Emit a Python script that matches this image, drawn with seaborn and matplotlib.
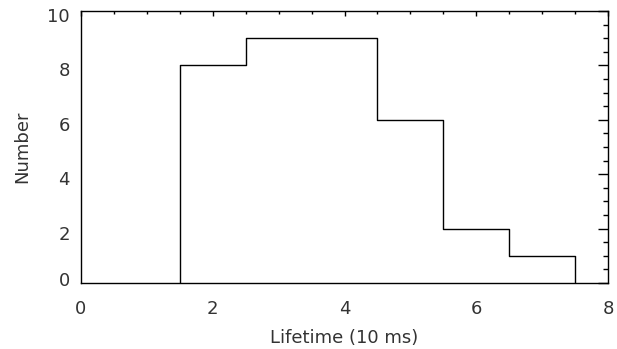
import numpy as np
import matplotlib
matplotlib.use("Agg")
import matplotlib.pyplot as plt
import matplotlib.transforms as mtransforms
from matplotlib.ticker import MultipleLocator, FixedLocator
import seaborn as sns

# Data
bin_edges = [1.5, 2.5, 3.5, 4.5, 5.5, 6.5, 7.5]
counts = [8, 9, 9, 6, 2, 1]
x_ticks = [0, 2, 4, 6, 8]
y_ticks = [0, 2, 4, 6, 8, 10]
x_label = "Lifetime (10 ms)"
y_label = "Number"

centers = [(a + b) / 2 for a, b in zip(bin_edges[:-1], bin_edges[1:])]

sns.set_theme(style="white")
plt.rcParams['font.family'] = ['DejaVu Sans']

fig = plt.figure(figsize=(6.17, 3.49), dpi=100)
ax = fig.add_axes([81 / 617, 1 - 283 / 349, 527 / 617, 272 / 349])

sns.histplot(x=centers, weights=counts, bins=bin_edges, element="step",
             fill=False, color="black", linewidth=1.0, ax=ax)
# outer edges of the step outline down to zero
ax.vlines([bin_edges[0], bin_edges[-1]], 0, [counts[0], counts[-1]],
          color="black", linewidth=1.0)

ax.set_xlim(0, 8)
ax.set_ylim(0, 10)
ax.xaxis.set_major_locator(FixedLocator(x_ticks))
ax.yaxis.set_major_locator(FixedLocator(y_ticks))
ax.xaxis.set_minor_locator(MultipleLocator(0.5))
ax.yaxis.set_minor_locator(MultipleLocator(0.5))

ax.tick_params(axis="both", which="both", direction="in", top=True, right=True,
               colors="black", labelcolor="#333333", labelsize=13)
ax.tick_params(axis="x", which="major", length=3.6, width=1, pad=12)
ax.tick_params(axis="x", which="minor", length=2.2, width=1)
ax.tick_params(axis="y", which="major", length=7.2, width=1, pad=8)
ax.tick_params(axis="y", which="minor", length=3.6, width=1)

for s in ax.spines.values():
    s.set_color("black")
    s.set_linewidth(1.0)
    s.set_visible(True)

ax.set_xlabel(x_label, fontsize=13, color="#333333")
ax.set_ylabel(y_label, fontsize=13, color="#333333")
ax.xaxis.set_label_coords(0.5, (283 - 329) / 272)
ax.yaxis.set_label_coords((31 - 81) / 527, 0.5)

fig.canvas.draw()
for lab in ax.get_yticklabels():
    dy = -4 if lab.get_text() != "0" else 4
    lab.set_transform(lab.get_transform() + mtransforms.ScaledTranslation(0, dy / 100, fig.dpi_scale_trans))

fig.savefig("out.png", dpi=100)
